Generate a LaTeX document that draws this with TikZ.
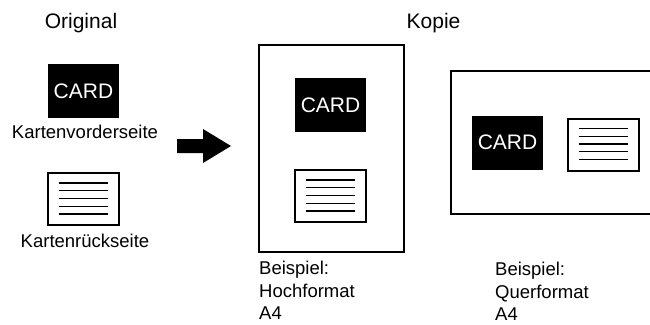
\documentclass[tikz,border=0pt]{standalone}
\usepackage{fontspec}
\setmainfont{Liberation Sans}
\usetikzlibrary{calc}

\tikzset{
  front/.style={fill=black, text=white, inner sep=0pt,
    minimum width=71pt, minimum height=54pt,
    font=\fontsize{21}{25}\selectfont},
  back/.style={draw, line width=2pt, inner sep=0pt,
    minimum width=71pt, minimum height=52pt},
  page/.style={line width=1.3pt},
  lbl/.style={inner sep=0pt, align=left, font=\fontsize{18.5}{22.5}\selectfont},
  head/.style={inner sep=0pt, font=\fontsize{21}{25}\selectfont}
}

% text lines on the back of a card
\newcommand{\backlines}[1]{%
  \foreach \i in {0,...,4}
    \draw[line width=1.4pt] ($(#1.north west)+(12,11+7.75*\i)$)
      -- ($(#1.north east)+(-12,11+7.75*\i)$);
}

\begin{document}
\begin{tikzpicture}[x=1pt, y=-1pt]
  \useasboundingbox (0,0) rectangle (650,324);

  % original
  \node[head, anchor=base] (orig) at (81,28) {Original};
  \node[front] (f1) at (83.5,91) {CARD};
  \node[lbl, anchor=base] (f1txt) at (85,138) {Kartenvorderseite};
  \node[back] (b1) at (83,199) {};
  \backlines{b1}
  \node[lbl, anchor=base] (b1txt) at (85,247) {Kartenrückseite};

  \fill[black] (177,139) -- (203,139) -- (203,129) -- (231,146)
    -- (203,163) -- (203,153) -- (177,153) -- cycle;

  % copy
  \node[head, anchor=base] (kopie) at (433.5,28) {Kopie};

  \draw[page] (259,45) rectangle (404,252);
  \node[front] (f2) at (330.5,105) {CARD};
  \node[back] (b2) at (330.5,196) {};
  \backlines{b2}
  % base of the node = last line
  \node[lbl, anchor=base west] (hoch) at (259,319.5) {Beispiel:\\Hochformat\\A4};

  \draw[page] (652,71) -| (451,214) -- (652,214);
  \node[front] (f3) at (507.5,142.5) {CARD};
  \node[back] (b3) at (603,144.5) {};
  \backlines{b3}
  \node[lbl, anchor=base west] (quer) at (495,320.5) {Beispiel:\\Querformat\\A4};
\end{tikzpicture}
\end{document}
